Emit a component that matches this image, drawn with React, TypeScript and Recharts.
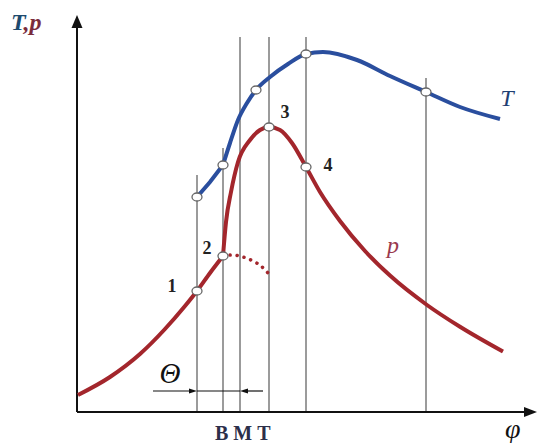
import React from "react";
import { ComposedChart, Line, Scatter, XAxis, YAxis, ReferenceLine } from "recharts";

// φ (crank angle) and T, p values in arbitrary units
const pressureCompression = [
    { x: 0.25, y: 4.25 }, { x: 8.25, y: 8.75 }, { x: 15.75, y: 14.5 }, { x: 22, y: 20.75 },
    { x: 27, y: 26.5 }, { x: 30, y: 30.25 }, { x: 33.25, y: 34.75 }, { x: 36.5, y: 39 },
];
const pressureCombustion = [
    { x: 36.5, y: 39 }, { x: 37.25, y: 47.5 }, { x: 38.5, y: 55 }, { x: 40.25, y: 62.5 },
    { x: 43.25, y: 68 }, { x: 45.75, y: 70.5 }, { x: 48, y: 71.25 }, { x: 50.75, y: 70.5 },
    { x: 53.75, y: 67.25 }, { x: 57.25, y: 61.25 }, { x: 60.75, y: 55 }, { x: 65.75, y: 47.75 },
    { x: 72, y: 40.25 }, { x: 78.25, y: 34.1 }, { x: 87.5, y: 26.75 }, { x: 95.75, y: 21.3 },
    { x: 106.5, y: 15.1 },
];
const pressureNoIgnition = [
    { x: 36.5, y: 39 }, { x: 39, y: 39.25 }, { x: 41.5, y: 38.75 }, { x: 44, y: 37.75 },
    { x: 46, y: 36.5 }, { x: 47.75, y: 34.75 },
];
const temperatureStart = [{ x: 30, y: 53.75 }, { x: 33.25, y: 57.5 }, { x: 36.5, y: 61.75 }];
const temperatureMain = [
    { x: 36.5, y: 61.75 }, { x: 38.25, y: 67.25 }, { x: 40.25, y: 73 }, { x: 42.5, y: 77.25 },
    { x: 44.75, y: 80.5 }, { x: 48.25, y: 83.75 }, { x: 52.75, y: 87 }, { x: 57.25, y: 89.5 },
    { x: 61.5, y: 90 }, { x: 70, y: 88 }, { x: 78.25, y: 84 }, { x: 87.25, y: 80 },
    { x: 95.75, y: 76.25 }, { x: 105.75, y: 73.25 },
];
const markers = [
    { x: 30, y: 30.25 }, { x: 36.5, y: 39 }, { x: 48, y: 71.25 }, { x: 57.25, y: 61.25 },
    { x: 30, y: 53.75 }, { x: 36.5, y: 61.75 }, { x: 44.75, y: 80.5 }, { x: 57.25, y: 89.5 },
    { x: 87.25, y: 80 },
];
const phaseLines = [
    { x: 30, top: 59.25 }, { x: 36.5, top: 66 }, { x: 40.75, top: 93.75 },
    { x: 48, top: 93.75 }, { x: 57.25, top: 93.75 }, { x: 87.25, top: 83.5 },
];
const pointLabels = [
    { x: 23.75, y: 31.5, text: "1" }, { x: 32.5, y: 41, text: "2" },
    { x: 52, y: 75, text: "3" }, { x: 62.75, y: 61.75, text: "4" },
];
const curveLabels = [
    { x: 79, y: 41.75, text: "p", color: "#9a3a4e" },
    { x: 107.5, y: 78.5, text: "T", color: "#1f3f73" },
];

const RED = "#a3262c";
const BLUE = "#2a4e9e";
const SERIF = "'Liberation Serif', 'DejaVu Serif', serif";

const arrow = (size: number, width: number, stroke: number) => (p: any) => {
    const { x1, y1, x2, y2 } = p;
    const a = Math.atan2(y2 - y1, x2 - x1);
    const bx = x2 - size * Math.cos(a);
    const by = y2 - size * Math.sin(a);
    const nx = (-Math.sin(a) * width) / 2;
    const ny = (Math.cos(a) * width) / 2;
    return (
        <g>
            <line x1={x1} y1={y1} x2={bx} y2={by} stroke="#111" strokeWidth={stroke} />
            <path d={`M${x2},${y2} L${bx + nx},${by + ny} L${bx - nx},${by - ny} Z`} fill="#111" />
        </g>
    );
};

const marker = (p: any) => (
    <ellipse cx={p.cx} cy={p.cy} rx={5} ry={4} fill="#fff" stroke="#666" strokeWidth={1.3} />
);

const numberText = (p: any) => (
    <text x={p.cx} y={p.cy} textAnchor="middle" dominantBaseline="central"
        fontFamily={SERIF} fontWeight="bold" fontSize={18} fill="#222">
        {p.payload.text}
    </text>
);

const curveText = (p: any) => (
    <text x={p.cx} y={p.cy} textAnchor="middle" dominantBaseline="central"
        fontFamily={SERIF} fontStyle="italic" fontSize={24} fill={p.payload.color}>
        {p.payload.text}
    </text>
);

export default function App()
{
    return (
        <div style={{ position: "absolute", left: 0, top: 0, width: 538, height: 443, background: "#fff" }}>
            <ComposedChart width={538} height={443} margin={{ top: 12, right: 1, bottom: 31, left: 77 }}>
                <XAxis type="number" dataKey="x" domain={[0, 115]} hide />
                <YAxis type="number" dataKey="y" domain={[0, 100]} hide />

                {phaseLines.map((l) => (
                    <ReferenceLine key={l.x} segment={[{ x: l.x, y: 0 }, { x: l.x, y: l.top }]}
                        stroke="#7a7a7a" strokeWidth={1.5} />
                ))}

                <ReferenceLine segment={[{ x: 0, y: 0 }, { x: 0, y: 99.25 }]} shape={arrow(13, 11, 2)} />
                <ReferenceLine segment={[{ x: 0, y: 0 }, { x: 115, y: 0 }]} shape={arrow(13, 10, 2)} />

                <ReferenceLine segment={[{ x: 19, y: 5.25 }, { x: 30, y: 5.25 }]} shape={arrow(8, 5, 1.2)} />
                <ReferenceLine segment={[{ x: 30, y: 5.25 }, { x: 40.75, y: 5.25 }]} stroke="#111" strokeWidth={1.2} />
                <ReferenceLine segment={[{ x: 46.5, y: 5.25 }, { x: 40.75, y: 5.25 }]} shape={arrow(8, 5, 1.2)} />

                <Line data={pressureCompression} dataKey="y" type="monotone" stroke={RED} strokeWidth={4}
                    dot={false} isAnimationActive={false} />
                <Line data={pressureCombustion} dataKey="y" type="monotone" stroke={RED} strokeWidth={4}
                    dot={false} isAnimationActive={false} />
                <Line data={pressureNoIgnition} dataKey="y" type="monotone" stroke={RED} strokeWidth={3.5}
                    strokeDasharray="0.1 7" strokeLinecap="round" dot={false} isAnimationActive={false} />
                <Line data={temperatureStart} dataKey="y" type="linear" stroke={BLUE} strokeWidth={4}
                    dot={false} isAnimationActive={false} />
                <Line data={temperatureMain} dataKey="y" type="monotone" stroke={BLUE} strokeWidth={4}
                    dot={false} isAnimationActive={false} />

                <Scatter data={markers} shape={marker} isAnimationActive={false} />
                <Scatter data={pointLabels} shape={numberText} isAnimationActive={false} />
                <Scatter data={curveLabels} shape={curveText} isAnimationActive={false} />
                <Scatter data={[{ x: 23.25, y: 9.75 }]} isAnimationActive={false}
                    shape={(p: any) => (
                        <text x={p.cx} y={p.cy} textAnchor="middle" dominantBaseline="central"
                            fontFamily={SERIF} fontStyle="italic" fontSize={29} fill="#111">Θ</text>
                    )} />
            </ComposedChart>

            <div style={{ position: "absolute", left: 11, top: 8, fontFamily: SERIF, fontStyle: "italic",
                fontWeight: "bold", fontSize: 24, lineHeight: "28px" }}>
                <span style={{ color: "#1d4a6e" }}>T</span><span style={{ color: "#7a2c3c" }}>,p</span>
            </div>
            <div style={{ position: "absolute", left: 215, top: 422, fontFamily: SERIF, fontWeight: "bold",
                fontSize: 20, lineHeight: "22px", letterSpacing: 5, color: "#2c2f4a" }}>
                ВМТ
            </div>
            <div style={{ position: "absolute", left: 505, top: 414, fontFamily: SERIF, fontStyle: "italic",
                fontSize: 28, lineHeight: "30px", color: "#111" }}>
                φ
            </div>
        </div>
    );
}
